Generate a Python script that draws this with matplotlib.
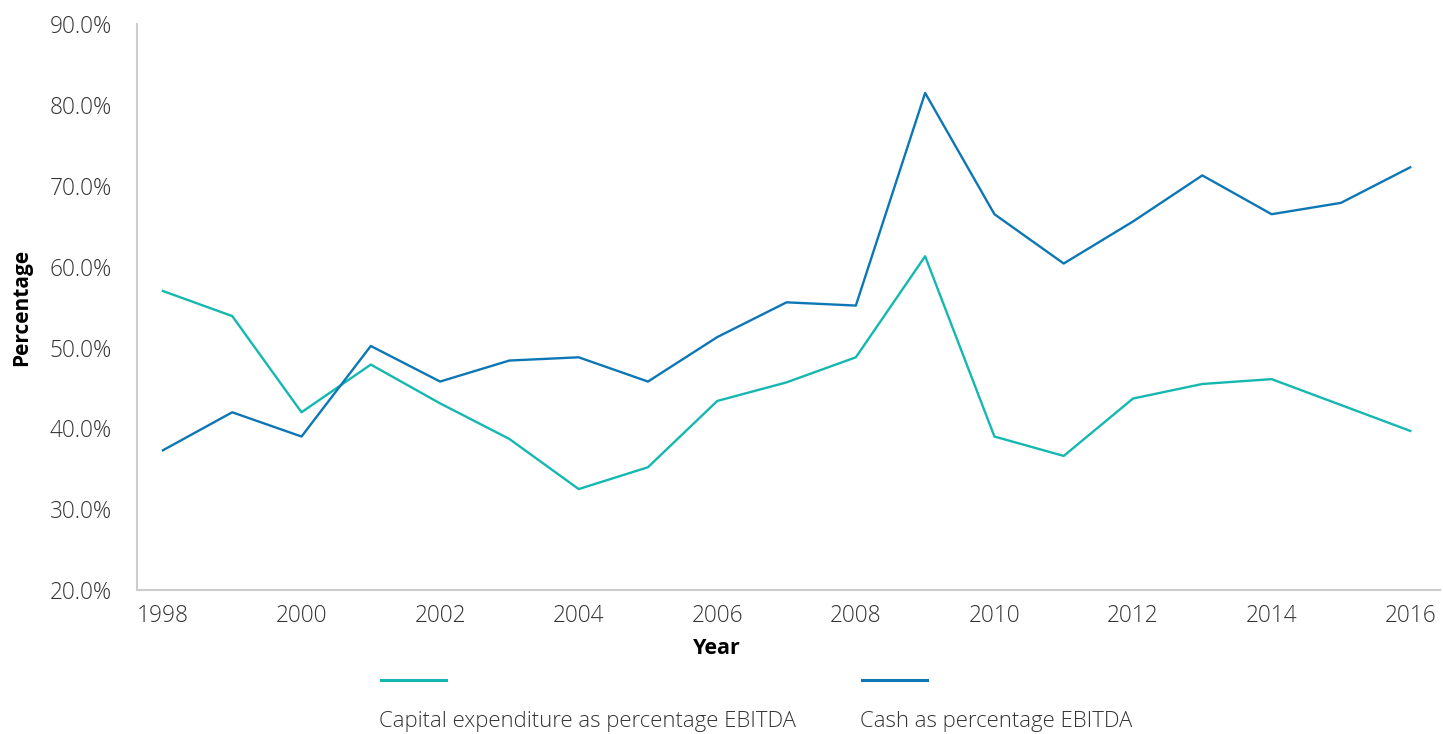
import matplotlib.pyplot as plt
from matplotlib.lines import Line2D
from matplotlib.ticker import FuncFormatter

plt.rcParams['font.family'] = ['Open Sans', 'DejaVu Sans']

years = list(range(1998, 2017))
capex_pct = [57.0, 53.9, 42.0, 47.9, 43.1, 38.7, 32.5, 35.2, 43.4, 45.7,
             48.8, 61.3, 39.0, 36.6, 43.7, 45.5, 46.1, 42.9, 39.7]
cash_pct = [37.3, 42.0, 39.0, 50.2, 45.8, 48.4, 48.8, 45.8, 51.3, 55.6,
            55.2, 81.5, 66.5, 60.4, 65.6, 71.3, 66.5, 67.9, 72.3]
labels = ["Capital expenditure as percentage EBITDA", "Cash as percentage EBITDA"]
colors = ["#14b8b0", "#0d77b5"]

fig = plt.figure(figsize=(14.43, 7.34), dpi=100)
ax = fig.add_axes([0.0949, 0.196, 0.903, 0.771])

ax.plot(years, capex_pct, color=colors[0], lw=1.7)
ax.plot(years, cash_pct, color=colors[1], lw=1.7)

ax.set_xlim(1997.625, 2016.43)
ax.set_ylim(20, 90)
ax.set_xticks(range(1998, 2017, 2))
ax.set_yticks(range(20, 91, 10))
ax.yaxis.set_major_formatter(FuncFormatter(lambda v, p: f"{v:.1f}%"))
ax.tick_params(length=0, labelsize=16.3, colors="#333333")
ax.tick_params(axis="x", pad=10)
ax.tick_params(axis="y", pad=18)
for t in ax.get_xticklabels() + ax.get_yticklabels():
    t.set_fontweight("light")

for side in ["top", "right"]:
    ax.spines[side].set_visible(False)
for side in ["left", "bottom"]:
    ax.spines[side].set_color("#cccccc")
    ax.spines[side].set_linewidth(1.5)

W, H = 1443, 734
fig.text(717 / W, 1 - 648 / H, "Year", fontsize=15.5, fontweight="bold", ha="center", va="center")
fig.text(22 / W, 1 - 307 / H, "Percentage", fontsize=15, fontweight="bold",
         rotation=90, ha="center", va="center")

# legend: line swatch above each label
for (x0, x1), lab, c in zip([(381, 446), (862, 927)], labels, colors):
    fig.add_artist(Line2D([x0 / W, x1 / W], [1 - 680 / H] * 2, color=c, lw=2.2))
    fig.text((x0 - 2) / W, 1 - 721 / H, lab, fontsize=15.9, fontweight="light",
             color="#333333", va="center")

fig.savefig("out.png", dpi=100)
